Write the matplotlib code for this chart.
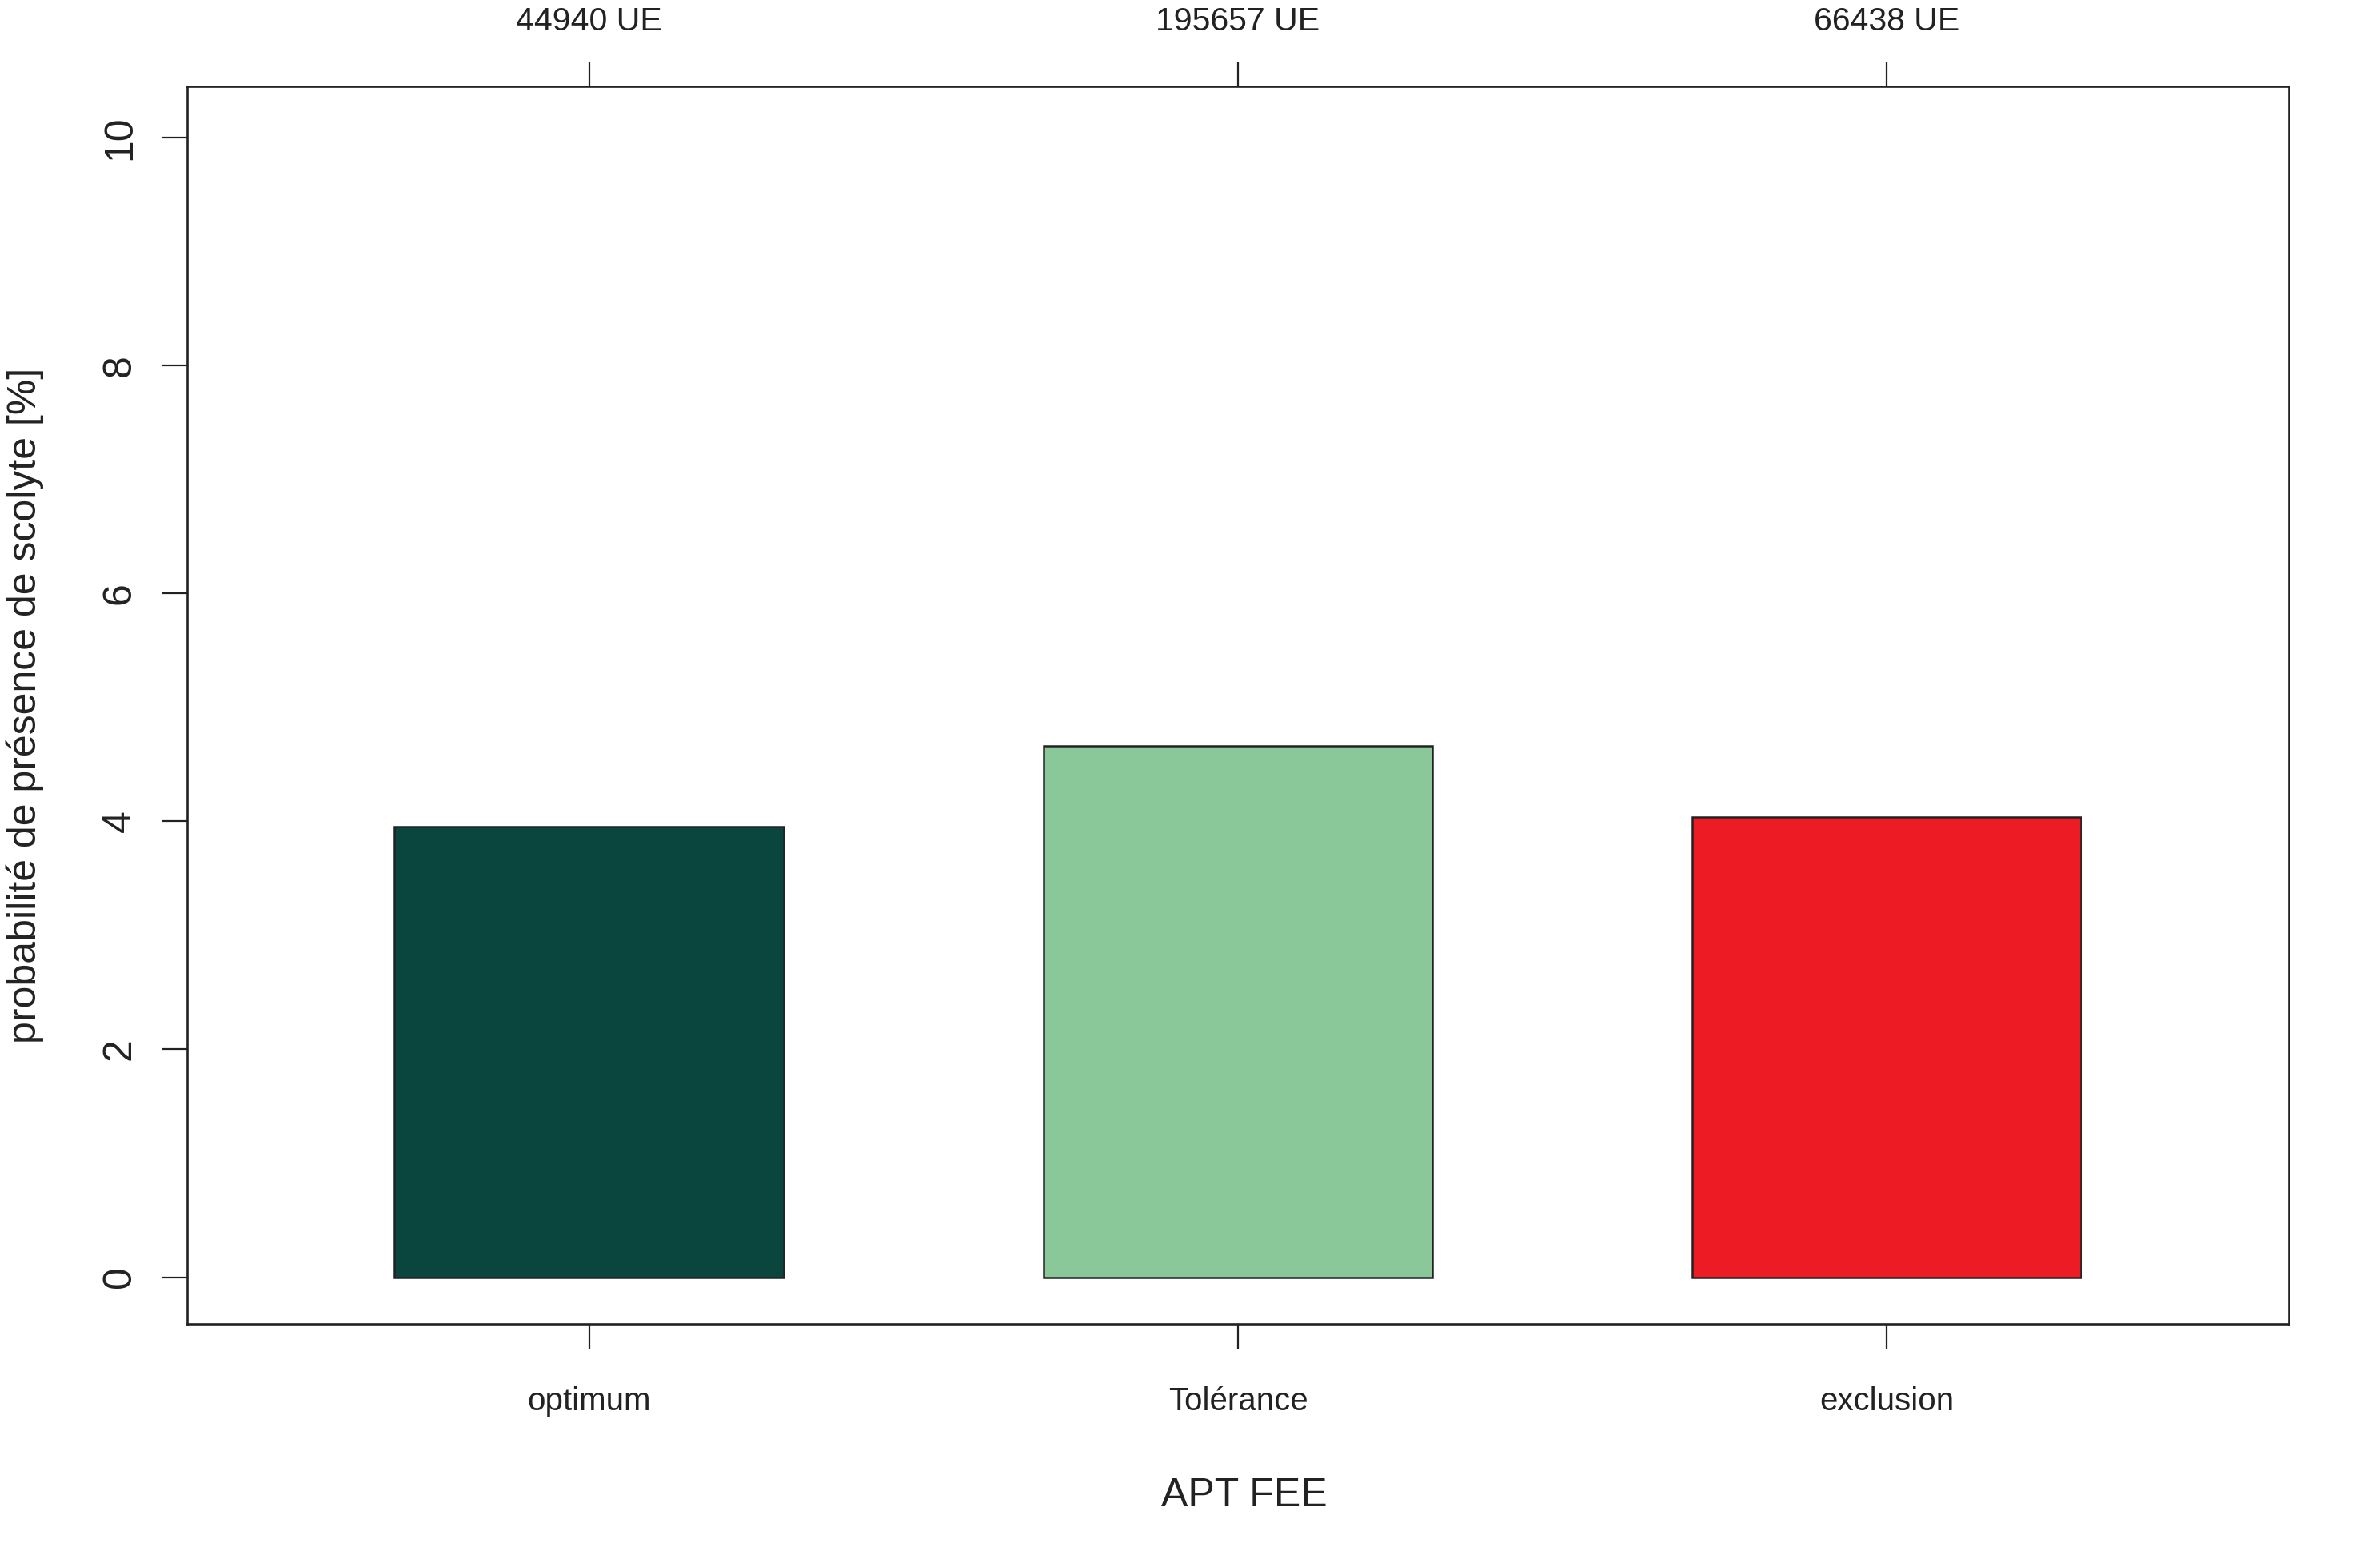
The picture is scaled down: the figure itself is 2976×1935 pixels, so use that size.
import matplotlib
matplotlib.use("Agg")
import matplotlib.pyplot as plt

# --- data ---
categories = ["optimum", "Tolérance", "exclusion"]
probabilities = [3.95, 4.66, 4.04]
unit_counts = ["44940 UE", "195657 UE", "66438 UE"]
bar_colors = ["#0B463E", "#8AC89A", "#ED1C24"]
y_ticks = [0, 2, 4, 6, 8, 10]

plt.rcParams['font.family'] = ['Liberation Sans', 'DejaVu Sans']

DPI = 100
fig = plt.figure(figsize=(29.76, 19.35), dpi=DPI)
ax = fig.add_axes([0.0786, 0.1442, 0.9617 - 0.0786, 0.9442 - 0.1442])

x = list(range(len(categories)))
ax.bar(x, probabilities, width=0.6, color=bar_colors, edgecolor="#222222",
       linewidth=1.8, zorder=2)

ax.set_xlim(-0.62, len(categories) - 1 + 0.62)
ax.set_ylim(-0.41, 10.45)

# axis frame, R style
for sp in ax.spines.values():
    sp.set_linewidth(1.9)
    sp.set_color("#222222")

ax.set_yticks(y_ticks)
ax.set_yticklabels([str(t) for t in y_ticks], rotation=90, va="center",
                   fontsize=36, color="#222222")
ax.tick_params(axis="y", length=22, width=1.6, pad=22, color="#222222")

ax.set_xticks(x)
ax.set_xticklabels(categories, fontsize=29, color="#222222")
ax.tick_params(axis="x", length=22, width=1.6, pad=34, color="#222222")

# top axis with unit counts
top = ax.twiny()
top.set_xlim(ax.get_xlim())
top.set_xticks(x)
top.set_xticklabels(unit_counts, fontsize=29.5, color="#222222")
top.tick_params(axis="x", length=22, width=1.6, pad=22.5, color="#222222")
for sp in top.spines.values():
    sp.set_visible(False)

ax.set_xlabel("APT FEE", fontsize=36, labelpad=55, color="#222222")
ax.xaxis.label.set_x(0.503)
ax.set_ylabel("probabilité de présence de scolyte [%]", fontsize=36,
              labelpad=52, color="#222222")

fig.savefig("out.png", dpi=DPI, facecolor="white")
